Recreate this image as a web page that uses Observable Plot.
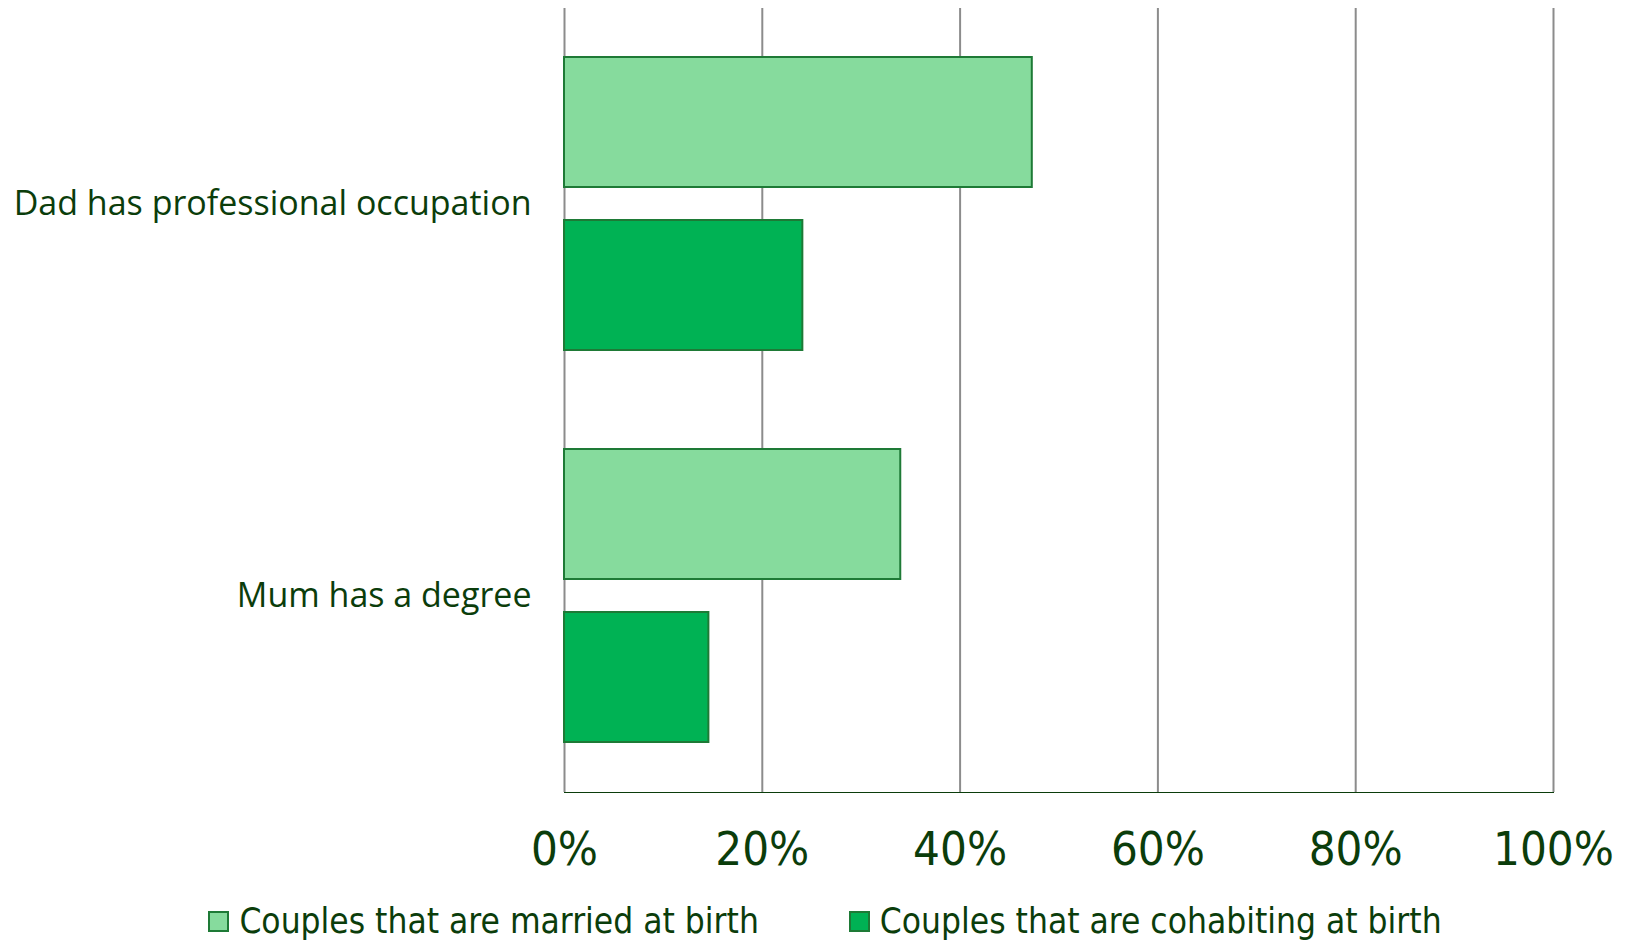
<!DOCTYPE html>
<html>
<head>
<meta charset="utf-8">
<script src="https://cdn.jsdelivr.net/npm/d3@7"></script>
<script src="https://cdn.jsdelivr.net/npm/@observablehq/plot@0.6"></script>
<style>
  html, body { margin: 0; padding: 0; background: #fff; }
  #chart svg { display: block; }
  #chart [aria-label^="x-axis"] text { font-family: "DejaVu Sans Condensed", "Liberation Sans Narrow", sans-serif; font-size: 47px; }
  #chart [aria-label^="x-axis"] path { stroke: #8c8c8c; stroke-width: 2px; }
  #chart [aria-label^="fy-axis"] text { font-family: "Open Sans", sans-serif; font-size: 34px; }
  .legend { display: flex; justify-content: center; gap: 90px; margin-top: 21px; padding-left: 24px;
    font-family: "DejaVu Sans Condensed", "Liberation Sans Narrow", sans-serif; font-size: 35px; color: #0b3d0b; line-height: 40px; }
  .legend .item { display: flex; align-items: center; gap: 10px; }
  .legend .sw { width: 17px; height: 17px; border: 2px solid #1e7a36; }
</style>
</head>
<body>
<div id="chart"></div>
<script>
const categories = ["Dad has professional occupation", "Mum has a degree"];
const series = ["Couples that are married at birth", "Couples that are cohabiting at birth"];
const married = [0.473, 0.340];
const cohabiting = [0.241, 0.146];
const colors = ["#86db9d", "#00b254"];
const xTicks = [0, 0.2, 0.4, 0.6, 0.8, 1.0];

const data = [];
categories.forEach((c, i) => {
  data.push({category: c, series: series[0], value: married[i]});
  data.push({category: c, series: series[1], value: cohabiting[i]});
});

const chart = Plot.plot({
  width: 1626,
  height: 880,
  marginLeft: 564,
  marginRight: 73,
  marginTop: 8,
  marginBottom: 88,
  style: {color: "#0b3d0b", background: "#fff", fontFamily: "Open Sans, sans-serif"},
  facet: {data, y: "category"},
  fy: {domain: categories, padding: 0, label: null, tickSize: 0, tickPadding: 33},
  y: {domain: series, paddingInner: 0.2, paddingOuter: 0.3, axis: null},
  x: {domain: [0, 1], ticks: xTicks, tickFormat: d => Math.round(d * 100) + "%", tickSize: 0, tickPadding: 39, label: null, line: true},
  color: {domain: series, range: colors},
  marks: [
    Plot.ruleX(xTicks, {x: d => d, stroke: "#8c8c8c", strokeWidth: 2}),
    Plot.barX(data, {x: "value", y: "series", fill: "series", stroke: "#1e7a36", strokeWidth: 2})
  ]
});
document.getElementById("chart").appendChild(chart);

const legend = document.createElement("div");
legend.className = "legend";
series.forEach((s, i) => {
  const item = document.createElement("div");
  item.className = "item";
  const sw = document.createElement("span");
  sw.className = "sw";
  sw.style.background = colors[i];
  const t = document.createElement("span");
  t.textContent = s;
  item.appendChild(sw);
  item.appendChild(t);
  legend.appendChild(item);
});
document.getElementById("chart").appendChild(legend);
</script>
</body>
</html>
